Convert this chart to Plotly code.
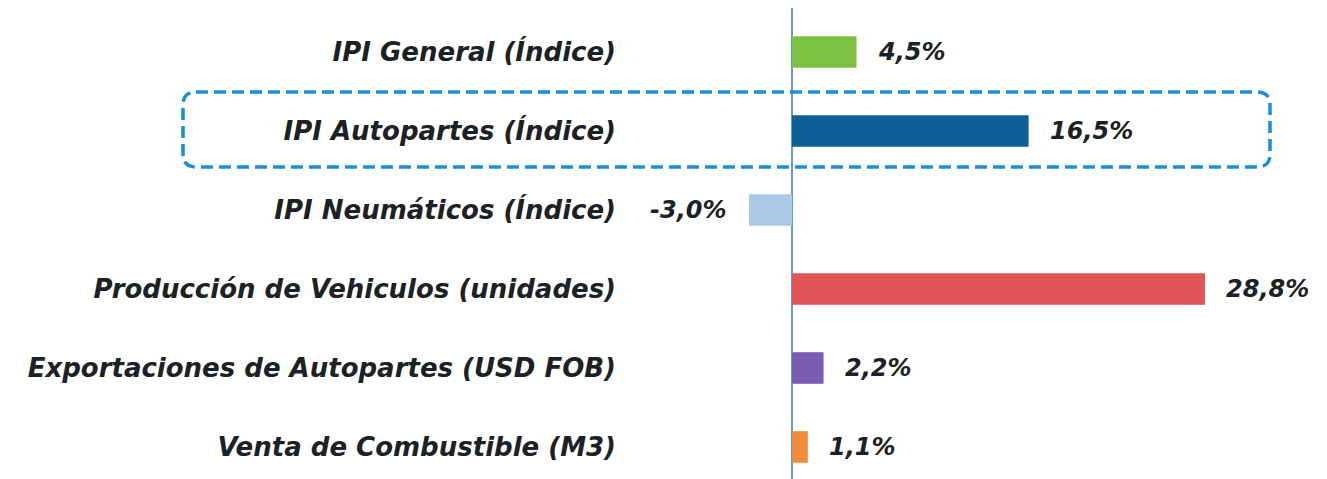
import plotly.graph_objects as go

categories = [
    "IPI General (Índice)",
    "IPI Autopartes (Índice)",
    "IPI Neumáticos (Índice)",
    "Producción de Vehiculos (unidades)",
    "Exportaciones de Autopartes (USD FOB)",
    "Venta de Combustible (M3)",
]
values = [4.5, 16.5, -3.0, 28.8, 2.2, 1.1]
value_labels = ["4,5%", "16,5%", "-3,0%", "28,8%", "2,2%", "1,1%"]
colors = ["#7cc142", "#0e5f98", "#a9c9e6", "#e15355", "#7a5db3", "#f28a3c"]

W, H = 1327, 479
OFF = 8  # page body margin offset
L, R, T, B = 625 - OFF, 0, 0, 0
PW = W - L - R
PH = H - T - B
px_per_unit = (1205 - 792) / 28.8
x_zero = 792 - OFF
xmin = -(x_zero - L) / px_per_unit
xmax = xmin + PW / px_per_unit
row_px = 79
ytop = -(52 - OFF) / row_px
ybot = ytop + PH / row_px

FONT = "DejaVu Sans"
TXT = "#1b2124"

fig = go.Figure()
fig.add_trace(go.Bar(
    x=values, y=categories, orientation="h",
    marker=dict(color=colors, line=dict(width=0)),
    width=0.4, showlegend=False, hoverinfo="skip",
))

for v, c, lab in zip(values, categories, value_labels):
    fig.add_annotation(
        x=v, y=c, xref="x", yref="y", text=lab, showarrow=False,
        xanchor="left" if v >= 0 else "right",
        xshift=19 if v >= 0 else -20,
        font=dict(family=FONT, size=24, color=TXT, weight="bold", style="italic"),
    )

def px_to_paper_x(p):
    return (p - OFF - L) / PW

def px_to_paper_y(p):
    return 1 - (p - OFF - T) / PH

x0, x1 = px_to_paper_x(183), px_to_paper_x(1270)
y0, y1 = px_to_paper_y(167), px_to_paper_y(92)
rx, ry = 13 / PW, 13 / PH
path = (
    f"M {x0+rx},{y1} L {x1-rx},{y1} Q {x1},{y1} {x1},{y1-ry} "
    f"L {x1},{y0+ry} Q {x1},{y0} {x1-rx},{y0} "
    f"L {x0+rx},{y0} Q {x0},{y0} {x0},{y0+ry} "
    f"L {x0},{y1-ry} Q {x0},{y1} {x0+rx},{y1} Z"
)
fig.add_shape(type="path", path=path, xref="paper", yref="paper",
              line=dict(color="#1a8fd3", width=3.5, dash="12px,6px"))

fig.update_layout(
    width=W, height=H,
    margin=dict(l=L, r=R, t=T, b=B),
    paper_bgcolor="white", plot_bgcolor="white",
    xaxis=dict(range=[xmin, xmax], showgrid=False, showticklabels=False,
               zeroline=True, zerolinecolor="#6a9dbf", zerolinewidth=2,
               showline=False, ticks=""),
    yaxis=dict(range=[ybot, ytop], showgrid=False, zeroline=False,
               showline=False, ticks="", ticklabelstandoff=8,
               tickfont=dict(family=FONT, size=26, color=TXT,
                             weight="bold", style="italic")),
)

fig.write_html("out.html")
